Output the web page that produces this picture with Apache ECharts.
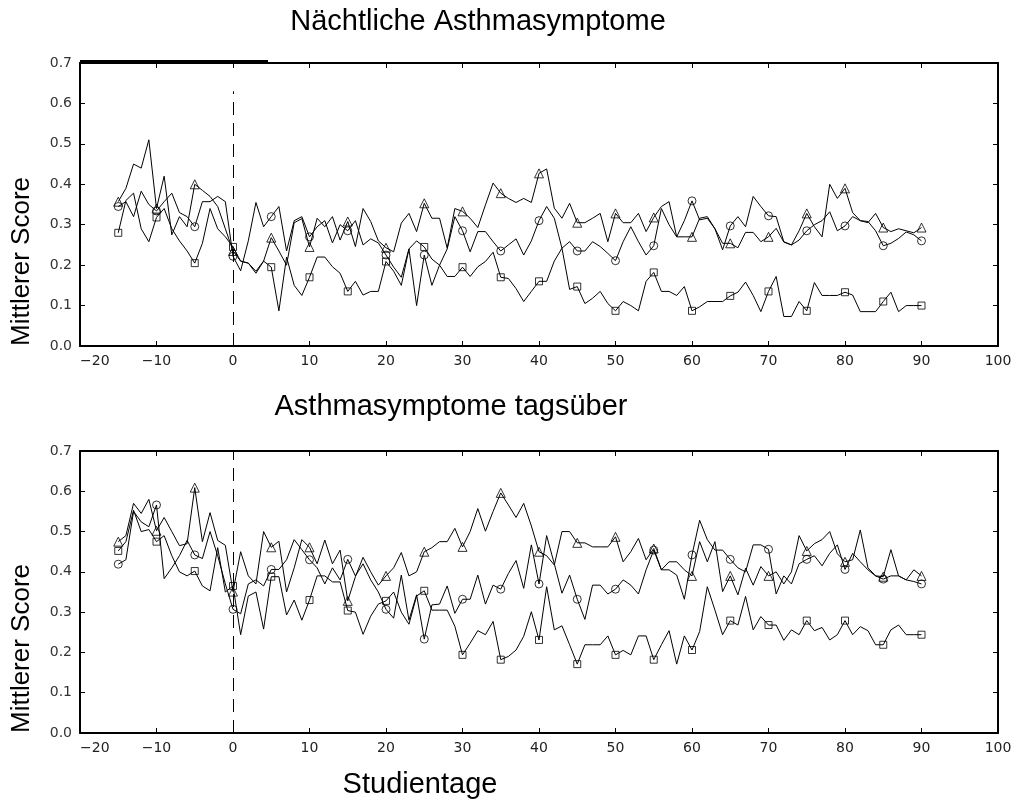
<!DOCTYPE html>
<html>
<head>
<meta charset="utf-8">
<script src="https://cdn.jsdelivr.net/npm/echarts@6/dist/echarts.min.js"></script>
<style>
  html, body { margin: 0; padding: 0; background: #fff; }
  #chart { width: 1019px; height: 811px; }
</style>
</head>
<body>
<div id="chart"></div>
<script>
// Study days run from day -15 to day 90, one value per day.
const firstDay = -15;
const lastDay = 90;

// Panel titles and axis texts
const titleNight = 'Nächtliche Asthmasymptome';
const titleDay = 'Asthmasymptome tagsüber';
const yName = 'Mittlerer Score';
const xName = 'Studientage';

// Nocturnal asthma symptoms – mean score per day (three treatment groups)
const nightTriangle = [
  0.357, 0.39, 0.45, 0.44, 0.51, 0.34, 0.42, 0.275, 0.32, 0.295,
  0.40, 0.385, 0.37, 0.345, 0.29, 0.235, 0.21, 0.205, 0.185, 0.21,
  0.268, 0.235, 0.20, 0.305, 0.315, 0.245, 0.316, 0.295, 0.32, 0.262,
  0.308, 0.246, 0.34, 0.308, 0.26, 0.243, 0.233, 0.304, 0.328, 0.283,
  0.353, 0.316, 0.316, 0.242, 0.34, 0.333, 0.316, 0.293, 0.349, 0.403,
  0.378, 0.365, 0.355, 0.365, 0.355, 0.427, 0.438, 0.341, 0.316, 0.353,
  0.305, 0.305, 0.316, 0.328, 0.258, 0.328, 0.305, 0.305, 0.328, 0.283,
  0.318, 0.345, 0.357, 0.27, 0.27, 0.27, 0.316, 0.32, 0.29, 0.254,
  0.254, 0.243, 0.281, 0.281, 0.258, 0.27, 0.291, 0.257, 0.25, 0.285,
  0.328, 0.295, 0.27, 0.40, 0.365, 0.39, 0.33, 0.31, 0.305, 0.328,
  0.293, 0.283, 0.29, 0.285, 0.28, 0.293
];
const nightCircle = [
  0.345, 0.357, 0.32, 0.383, 0.35, 0.334, 0.357, 0.378, 0.33, 0.32,
  0.295, 0.357, 0.357, 0.37, 0.357, 0.222, 0.186, 0.26, 0.355, 0.295,
  0.32, 0.345, 0.235, 0.31, 0.32, 0.27, 0.295, 0.31, 0.255, 0.30,
  0.285, 0.31, 0.25, 0.265, 0.255, 0.225, 0.195, 0.17, 0.24, 0.10,
  0.225, 0.15, 0.20, 0.24, 0.32, 0.285, 0.233, 0.283, 0.283, 0.258,
  0.235, 0.25, 0.265, 0.225, 0.26, 0.31, 0.345, 0.316, 0.242, 0.258,
  0.235, 0.235, 0.258, 0.246, 0.229, 0.211, 0.258, 0.295, 0.258, 0.225,
  0.248, 0.34, 0.30, 0.27, 0.31, 0.359, 0.312, 0.316, 0.29, 0.238,
  0.297, 0.32, 0.295, 0.37, 0.345, 0.322, 0.32, 0.258, 0.25, 0.262,
  0.285, 0.30, 0.31, 0.332, 0.285, 0.297, 0.32, 0.31, 0.308, 0.285,
  0.248, 0.254, 0.266, 0.282, 0.275, 0.26
];
const nightSquare = [
  0.28, 0.36, 0.378, 0.29, 0.258, 0.318, 0.34, 0.29, 0.26, 0.235,
  0.205, 0.254, 0.34, 0.29, 0.27, 0.245, 0.21, 0.205, 0.18, 0.21,
  0.195, 0.087, 0.22, 0.15, 0.125, 0.17, 0.22, 0.22, 0.196, 0.18,
  0.135, 0.16, 0.126, 0.135, 0.135, 0.209, 0.185, 0.15, 0.24, 0.26,
  0.245, 0.215, 0.20, 0.172, 0.172, 0.195, 0.172, 0.196, 0.209, 0.232,
  0.17, 0.167, 0.142, 0.11, 0.135, 0.16, 0.16, 0.21, 0.242, 0.14,
  0.147, 0.105, 0.118, 0.135, 0.105, 0.087, 0.11, 0.10, 0.087, 0.16,
  0.182, 0.135, 0.135, 0.125, 0.147, 0.087, 0.097, 0.11, 0.11, 0.11,
  0.124, 0.133, 0.158, 0.125, 0.085, 0.135, 0.172, 0.073, 0.073, 0.11,
  0.087, 0.157, 0.125, 0.125, 0.125, 0.133, 0.126, 0.085, 0.085, 0.085,
  0.11, 0.133, 0.085, 0.10, 0.10, 0.10
];

// Daytime asthma symptoms – mean score per day (three treatment groups)
const dayTriangle = [
  0.475, 0.49, 0.57, 0.545, 0.58, 0.502, 0.535, 0.50, 0.465, 0.47,
  0.609, 0.475, 0.547, 0.478, 0.466, 0.351, 0.45, 0.39, 0.37, 0.50,
  0.461, 0.476, 0.35, 0.41, 0.48, 0.461, 0.42, 0.479, 0.42, 0.454,
  0.328, 0.388, 0.436, 0.40, 0.367, 0.39, 0.41, 0.448, 0.39, 0.40,
  0.45, 0.46, 0.475, 0.475, 0.508, 0.462, 0.50, 0.557, 0.501, 0.55,
  0.596, 0.566, 0.535, 0.57, 0.514, 0.45, 0.44, 0.417, 0.50, 0.50,
  0.472, 0.472, 0.462, 0.462, 0.462, 0.487, 0.425, 0.45, 0.483, 0.43,
  0.458, 0.405, 0.425, 0.425, 0.405, 0.39, 0.475, 0.425, 0.475, 0.351,
  0.39, 0.343, 0.409, 0.367, 0.413, 0.39, 0.40, 0.37, 0.40, 0.49,
  0.452, 0.47, 0.48, 0.50, 0.445, 0.425, 0.43, 0.504, 0.41, 0.39,
  0.388, 0.455, 0.39, 0.38, 0.405, 0.39
];
const dayCircle = [
  0.419, 0.43, 0.55, 0.524, 0.512, 0.566, 0.383, 0.41, 0.44, 0.478,
  0.442, 0.433, 0.50, 0.44, 0.37, 0.307, 0.296, 0.37, 0.38, 0.365,
  0.406, 0.406, 0.43, 0.48, 0.455, 0.43, 0.41, 0.37, 0.41, 0.38,
  0.431, 0.39, 0.42, 0.38, 0.35, 0.307, 0.285, 0.392, 0.28, 0.343,
  0.233, 0.318, 0.32, 0.365, 0.297, 0.332, 0.332, 0.392, 0.32, 0.367,
  0.357, 0.396, 0.428, 0.359, 0.467, 0.37, 0.49, 0.42, 0.347, 0.392,
  0.332, 0.282, 0.367, 0.367, 0.345, 0.357, 0.38, 0.367, 0.345, 0.405,
  0.454, 0.405, 0.405, 0.392, 0.332, 0.442, 0.528, 0.48, 0.454, 0.454,
  0.431, 0.41, 0.40, 0.467, 0.467, 0.456, 0.345, 0.39, 0.37, 0.42,
  0.431, 0.44, 0.415, 0.446, 0.467, 0.406, 0.446, 0.425, 0.405, 0.39,
  0.382, 0.39, 0.39, 0.38, 0.376, 0.37
];
const daySquare = [
  0.452, 0.475, 0.553, 0.50, 0.505, 0.475, 0.49, 0.44, 0.40, 0.39,
  0.402, 0.365, 0.353, 0.46, 0.35, 0.365, 0.244, 0.34, 0.35, 0.258,
  0.388, 0.388, 0.293, 0.33, 0.28, 0.33, 0.39, 0.39, 0.375, 0.375,
  0.304, 0.30, 0.245, 0.29, 0.32, 0.328, 0.35, 0.30, 0.27, 0.34,
  0.353, 0.305, 0.305, 0.305, 0.265, 0.194, 0.223, 0.254, 0.244, 0.277,
  0.182, 0.19, 0.206, 0.24, 0.301, 0.231, 0.363, 0.256, 0.266, 0.219,
  0.171, 0.219, 0.219, 0.219, 0.241, 0.194, 0.205, 0.194, 0.241, 0.241,
  0.182, 0.219, 0.254, 0.171, 0.241, 0.206, 0.252, 0.363, 0.305, 0.244,
  0.279, 0.268, 0.339, 0.256, 0.289, 0.268, 0.268, 0.23, 0.256, 0.244,
  0.279, 0.254, 0.262, 0.231, 0.244, 0.279, 0.244, 0.264, 0.254, 0.219,
  0.219, 0.256, 0.268, 0.244, 0.244, 0.244
];

// Treatment start (day 0) reference line
const startDay = 0;
// Markers are drawn every fifth day
const markerStep = 5;

const days = [];
for (let d = firstDay; d <= lastDay; d++) days.push(d);

const BLACK = '#000';
const tickFont = 'DejaVu Sans';
const textFont = '"Liberation Sans", Arial, sans-serif';

function pairs(values) {
  return days.map((d, i) => [d, values[i]]);
}
function markerPairs(values) {
  return days.map((d, i) => [d, values[i]]).filter(p => p[0] % markerStep === 0);
}

function lineSeries(values, gridIdx, extra) {
  return Object.assign({
    type: 'line',
    xAxisIndex: gridIdx * 2,
    yAxisIndex: gridIdx * 2,
    data: pairs(values),
    showSymbol: false,
    symbol: 'none',
    lineStyle: { color: BLACK, width: 1 },
    silent: true,
    z: 3
  }, extra || {});
}
function markerSeries(values, gridIdx, symbol, size) {
  return {
    type: 'scatter',
    xAxisIndex: gridIdx * 2,
    yAxisIndex: gridIdx * 2,
    data: markerPairs(values),
    symbol: symbol,
    symbolSize: size,
    itemStyle: { color: 'rgba(0,0,0,0)', borderColor: BLACK, borderWidth: 1 },
    silent: true,
    z: 4
  };
}
function startLine(topValue) {
  return {
    silent: true,
    symbol: 'none',
    label: { show: false },
    lineStyle: { color: BLACK, width: 1, type: [13, 8] },
    data: [[{ coord: [startDay, 0] }, { coord: [startDay, topValue] }]]
  };
}

const xMain = (gridIndex) => ({
  type: 'value', gridIndex, min: -20, max: 100, interval: 10,
  axisLine: { onZero: false, lineStyle: { color: BLACK, width: 2 } },
  axisTick: { inside: true, length: 5, lineStyle: { color: BLACK, width: 1 } },
  axisLabel: {
    color: '#222', fontFamily: tickFont, fontSize: 14, margin: 8,
    alignMinLabel: 'left',
    formatter: v => String(v).replace('-', '\u2212')
  },
  splitLine: { show: false }
});
const xTop = (gridIndex) => ({
  type: 'value', gridIndex, position: 'top', min: -20, max: 100, interval: 10,
  axisLine: { onZero: false, lineStyle: { color: BLACK, width: 2 } },
  axisTick: { inside: true, length: 5, lineStyle: { color: BLACK, width: 1 } },
  axisLabel: { show: false },
  splitLine: { show: false }
});
const yMain = (gridIndex) => ({
  type: 'value', gridIndex, min: 0, max: 0.7, interval: 0.1,
  axisLine: { onZero: false, lineStyle: { color: BLACK, width: 2 } },
  axisTick: { inside: true, length: 5, lineStyle: { color: BLACK, width: 1 } },
  axisLabel: {
    color: '#333', fontFamily: tickFont, fontSize: 14, margin: 8,
    formatter: v => v.toFixed(1)
  },
  splitLine: { show: false }
});
const yRight = (gridIndex) => ({
  type: 'value', gridIndex, position: 'right', min: 0, max: 0.7, interval: 0.1,
  axisLine: { onZero: false, lineStyle: { color: BLACK, width: 2 } },
  axisTick: { inside: true, length: 5, lineStyle: { color: BLACK, width: 1 } },
  axisLabel: { show: false },
  splitLine: { show: false }
});

function textEl(text, x, y, size, rotate, align) {
  return {
    type: 'text', x, y, rotation: rotate || 0, silent: true,
    style: {
      text, fill: BLACK, font: size + 'px ' + textFont,
      align: align || 'center', verticalAlign: 'middle'
    }
  };
}

const chart = echarts.init(document.getElementById('chart'), null, { renderer: 'canvas' });
chart.setOption({
  animation: false,
  backgroundColor: '#fff',
  grid: [
    { left: 80, top: 63, width: 918, height: 283 },
    { left: 80, top: 451, width: 918, height: 282 }
  ],
  xAxis: [xMain(0), xTop(0), xMain(1), xTop(1)],
  yAxis: [yMain(0), yRight(0), yMain(1), yRight(1)],
  series: [
    lineSeries(nightTriangle, 0, { markLine: startLine(0.63) }),
    lineSeries(nightCircle, 0),
    lineSeries(nightSquare, 0),
    markerSeries(nightTriangle, 0, 'triangle', 9),
    markerSeries(nightCircle, 0, 'circle', 8),
    markerSeries(nightSquare, 0, 'rect', 7),
    lineSeries(dayTriangle, 1, { markLine: startLine(0.7) }),
    lineSeries(dayCircle, 1),
    lineSeries(daySquare, 1),
    markerSeries(dayTriangle, 1, 'triangle', 9),
    markerSeries(dayCircle, 1, 'circle', 8),
    markerSeries(daySquare, 1, 'rect', 7)
  ],
  graphic: [
    textEl(titleNight, 478, 22, 29),
    textEl(titleDay, 451, 407, 29),
    textEl(xName, 420, 785, 29),
    textEl(yName, 22, 346, 26, Math.PI / 2, 'left'),
    textEl(yName, 22, 733, 26, Math.PI / 2, 'left'),
    { type: 'line', silent: true, shape: { x1: 80, y1: 61, x2: 268, y2: 61 },
      style: { stroke: BLACK, lineWidth: 2 } }
  ]
});
</script>
</body>
</html>
